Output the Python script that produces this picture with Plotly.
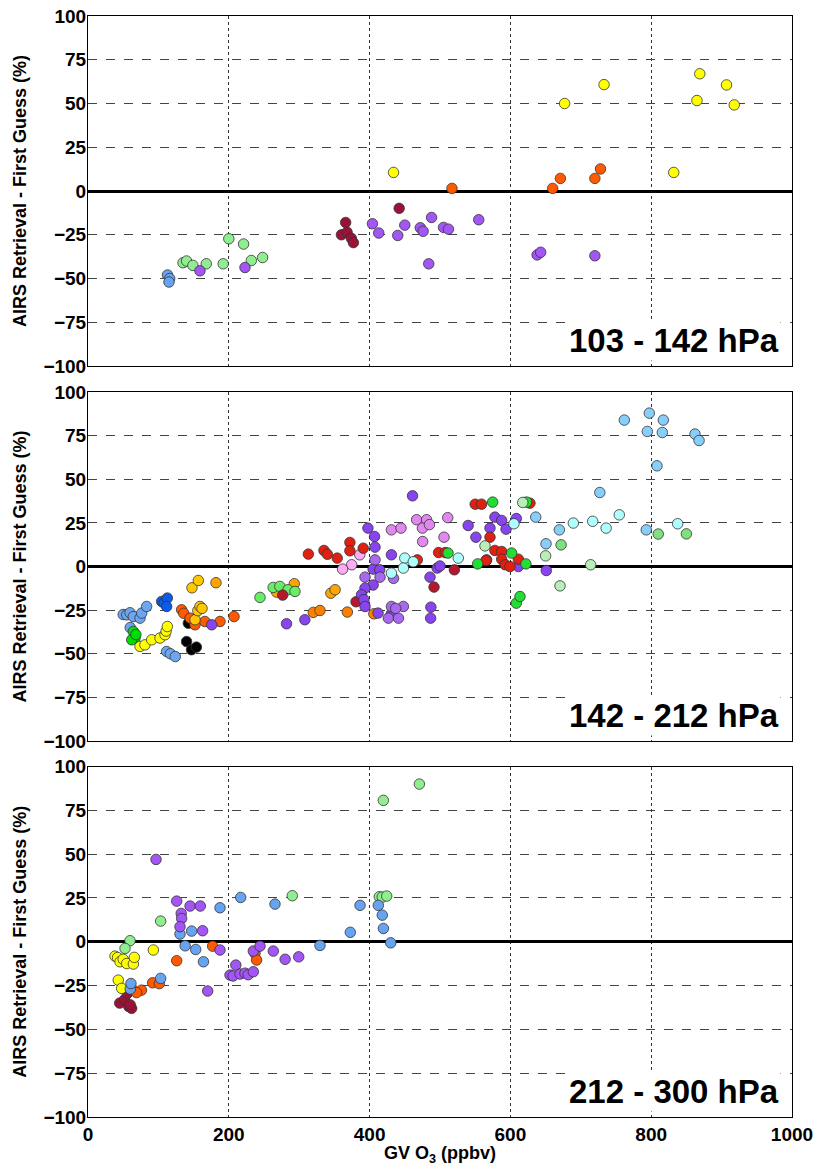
import plotly.graph_objects as go

# ---------------- DATA ----------------
# Panel 1 : 103 - 142 hPa
p1_blue = [(113, -48), (116, -50), (115, -52)]
p1_lgreen = [(135, -41), (140, -40), (149, -42.5), (168, -41.6), (192, -41.6), (200, -27.3),
             (221, -30.3), (232, -39.7), (248, -38)]
p1_purple = [(159, -45.6), (223, -43.7), (404, -18.7), (413, -24), (440, -25.4), (450, -19.5),
             (472, -21), (476, -23), (488, -15.1), (505, -20.8), (512, -21.8), (484, -41.6),
             (555, -16.4), (638, -36.5), (643, -35), (720, -37)]
p1_crimson = [(366, -18), (360, -25), (368, -23.5), (374, -27), (377, -29.5), (442, -9.9)]
p1_yellow = [(434, 10.6), (677, 50), (733, 60.8), (832, 10.6), (865, 51.7), (869, 67),
             (907, 60.6), (918, 49.2)]
p1_orange = [(517, 1.5), (660, 1.5), (671, 7.2), (720, 7.2), (728, 12.6)]

# Panel 2 : 142 - 212 hPa
p2_ltblue = [(50, -27.5), (55, -27.7), (59.7, -26.5), (64.4, -28.7), (73.9, -29.6), (76.3, -26.7),
             (83.3, -22.9), (60, -35), (111.7, -48.7), (117, -50), (124, -51.6)]
p2_blue = [(104.6, -20), (108, -21), (112.7, -18.1), (111.7, -22.9)]
p2_green0 = [(64.4, -37.2), (66.8, -41), (62.1, -42), (68, -39)]
p2_yellow = [(73.9, -45.8), (80.9, -44.9), (90.5, -42), (102.3, -41), (109.4, -39.1),
             (111, -37), (112.7, -34.4)]
p2_black = [(142.5, -32.5), (140, -43), (147, -47.7), (154, -46.2)]
p2_orangered = [(133, -24.8), (136, -26.8), (145, -29.6), (152, -33.4), (166, -31.5),
                (187.5, -31.5), (207.4, -28.7)]
p2_gold = [(147.7, -12.2), (156.7, -8), (152, -30.5), (156, -25.3), (159, -22.9), (162, -24)]
p2_orange = [(181.8, -9.3), (268, -14.7), (293, -9.9), (345, -15.3), (351, -13.3)]
p2_lgreen = [(244.3, -17.7), (263, -12), (272.5, -11.4), (284, -13.3), (294, -14.3)]
p2_crimson = [(276.5, -16.4), (380.7, -20.2), (491.5, -11.8), (520.4, -1.9)]
p2_dorange = [(320, -26.3), (329.5, -25.2), (368.4, -26.1), (406, -27.1)]
p2_purple = [(175.7, -33.4), (282, -32.8), (308, -30.5), (397.6, 22), (407, 17.2), (407.7, 11.1),
             (431, 6.7), (461, 40.5), (405, -1.5), (414.4, -1.9), (405, -10.6), (393.5, -12.4),
             (388.5, -16.2), (392, -19), (393.5, -22.9), (412, -26.7), (431, -27.1), (540, 23.5),
             (551, 16.8), (571, 22), (578, 28.3), (587.6, 26.4), (593.8, 21.4), (608.4, 27.5),
             (651, -2.3), (485.8, -6.1), (496, -0.9), (500, 0.3), (487, -23.3), (486.7, -29.6),
             (566.3, 3.8), (611.3, 0)]
p2_lavender = [(393.5, -6.1), (414.8, -6.1), (434, -6.8), (431, -22.9), (448, -22.9),
               (426.6, -29.6), (441, -29.6), (437, -24), (407.7, 3.8)]
p2_violet = [(431, 21), (444.6, 22), (466.8, 26.8), (481, 26.8), (475, 22), (485, 24),
             (511, 28), (505.7, 16.8), (475.4, 14.3)]
p2_pink = [(386, 6.7), (374.6, 1), (361.6, -1.5)]
p2_red = [(313, 7.1), (335.2, 9.2), (340, 7), (354, 4.8), (372, 13.8), (372, 9), (391, 10.5),
          (467.8, 3.8), (498, 8), (507.5, 8), (550, 35.7), (559, 35.7), (627.8, 36.3),
          (571, 16.8), (565.3, 3.4), (578, 9.2), (587.6, 8.6), (587.6, 4.2), (592.6, 1),
          (599.4, 0), (611.3, 4.2)]
p2_green = [(574.8, 36.9), (623, 36.9), (511.4, 7.7), (553.5, 1.5), (622, 1.5), (601.8, 7.7),
            (608.4, -21), (613.6, -17.2)]
p2_palegreen = [(617.5, 36.7), (563.9, 11.8), (650, 6.1), (670.5, -11.1), (714, 1)]
p2_cyan = [(450, 4.8), (431, -3.8), (448, -0.9), (462, 2.7), (526, 4.8), (605, 24.5),
           (689.4, 24.9), (716.9, 25.9), (736, 22), (754.7, 29.6), (837.6, 24.5)]
p2_skyblue = [(727, 42.4), (636, 28.3), (669.5, 21), (650.6, 13), (761.8, 83.9), (797.3, 87.9),
              (817.2, 83.9), (794.5, 77.4), (815.8, 76.8), (862.2, 75.9), (868, 72.2),
              (808.2, 57.7), (793, 21)]
p2_medgreen = [(672, 12.4), (810, 18.6), (850, 18.7)]

# Panel 3 : 212 - 300 hPa
p3_crimson = [(45, -35), (52, -33), (58, -37), (62, -38), (60, -36), (55.9, -29.5)]
p3_purple = [(96.6, 47), (126, 23.2), (132.4, 16.2), (133, 13.3), (130.7, 8.6), (145, 20.4),
             (159.5, 20.4), (162.8, 6.3), (187.5, -4.7), (170, -28.1), (201.7, -19), (206, -19.5),
             (210, -13.3), (216, -18.4), (223, -17.9), (227.5, -18.8), (234.8, -17.1),
             (234.8, -5.3), (244.3, -2.5), (263.2, -5.3), (280, -10), (299.3, -8.6)]
p3_ltblue = [(60, -27), (61, -23.8), (103.2, -20.9), (130.7, 4.4), (147.2, 6.1), (138, -2.3),
             (153, -4.4), (164, -11.4), (187.5, 19.4), (216.9, 25.3), (265.6, 21.5),
             (329.5, -2.1), (372.6, 5.4), (386.4, 20.8), (412.4, 20.8), (418, 15.2),
             (419.6, 7.6), (430, -0.6)]
p3_lgreen = [(470.7, 90), (419.5, 80.7), (290.2, 26.3), (413.8, 25.7), (418, 25.5),
             (424.3, 26.1), (103.2, 11.8), (59.7, 0.6), (52.6, -3.8)]
p3_yellow = [(92.8, -4.7), (38.4, -8.2), (42, -9), (45.5, -11.4), (50, -10), (55, -12.4),
             (64.4, -12.7), (65.8, -8.9), (43, -21.9), (47.8, -26.6)]
p3_orangered = [(126, -10.8), (177, -2.5), (237.2, -6.6), (239.5, -10.4), (91.8, -23.4),
                (101.3, -23.9), (62, -26.6), (76, -27.6), (69, -29)]

y_ticks = [-100, -75, -50, -25, 0, 25, 50, 75, 100]
x_ticks = [0, 200, 400, 600, 800, 1000]
panel_labels = ["103 - 142 hPa", "142 - 212 hPa", "212 - 300 hPa"]
y_title = "AIRS Retrieval - First Guess (%)"
x_title = "GV O<sub>3</sub> (ppbv)"

# ---------------- STYLE ----------------
panels = [
    [(p1_blue, "#66A3F2"), (p1_lgreen, "#90EE90"), (p1_purple, "#A355F5"),
     (p1_crimson, "#9B1238"), (p1_yellow, "#FFFF00"), (p1_orange, "#FF5A00")],
    [(p2_ltblue, "#6CA6F0"), (p2_blue, "#0A5CE8"), (p2_green0, "#00DD00"), (p2_yellow, "#FFFF00"),
     (p2_black, "#000000"), (p2_orangered, "#FF5A00"), (p2_gold, "#FFC800"),
     (p2_orange, "#FFA500"), (p2_lgreen, "#66EE66"), (p2_crimson, "#B5172E"),
     (p2_dorange, "#FF8000"), (p2_purple, "#8844EE"), (p2_lavender, "#A868F0"),
     (p2_violet, "#E088F0"), (p2_pink, "#FFAAF5"), (p2_red, "#E02010"), (p2_green, "#22DD33"),
     (p2_palegreen, "#B8EEB8"), (p2_cyan, "#B0FFFF"), (p2_skyblue, "#87CEFA"),
     (p2_medgreen, "#80E080")],
    [(p3_crimson, "#9B1238"), (p3_orangered, "#FF5A00"), (p3_yellow, "#FFFF00"),
     (p3_lgreen, "#90EE90"), (p3_ltblue, "#66A3F0"), (p3_purple, "#A355F5")],
]

domains = [[0.6821, 1.0], [0.3415, 0.6585], [0.0, 0.3183]]
FONT = "Liberation Sans, Arial, sans-serif"

fig = go.Figure()
for i, series in enumerate(panels):
    ax = "" if i == 0 else str(i + 1)
    for pts, col in series:
        fig.add_trace(go.Scatter(
            x=[p[0] for p in pts], y=[p[1] for p in pts],
            mode="markers", xaxis="x" + ax, yaxis="y" + ax,
            marker=dict(size=10.5, color=col, line=dict(width=0.8, color="#333333")),
            showlegend=False, hoverinfo="skip"))

axis_common = dict(showline=True, mirror=True, linecolor="black", linewidth=1,
                   ticks="", showgrid=True)
for i in range(3):
    ax = "" if i == 0 else str(i + 1)
    xa = dict(axis_common, range=[0, 1000], tickvals=x_ticks, gridcolor="#333333",
              griddash="dot", gridwidth=1, zeroline=False, anchor="y" + ax,
              tickfont=dict(family=FONT, size=19, color="black", weight="bold"),
              showticklabels=(i == 2), automargin=False)
    if i > 0:
        xa["matches"] = "x"
    if i == 2:
        xa["title"] = dict(text=x_title, standoff=2,
                           font=dict(family=FONT, size=18, color="black", weight="bold"))
    ya = dict(axis_common, range=[-100, 100], tickvals=y_ticks, domain=domains[i],
              gridcolor="#444444", griddash="dash", gridwidth=1, zeroline=True,
              zerolinecolor="black", zerolinewidth=2.5, anchor="x" + ax,
              tickfont=dict(family=FONT, size=19, color="black", weight="bold"),
              ticklabelstandoff=-3, automargin=False,
              title=dict(text=y_title, standoff=12,
                         font=dict(family=FONT, size=18, color="black", weight="bold")))
    fig.layout["xaxis" + ax] = xa
    fig.layout["yaxis" + ax] = ya
    fig.add_annotation(text=panel_labels[i], xref="x" + ax + " domain", yref="y" + ax + " domain",
                       x=0.985, y=0.015, xanchor="right", yanchor="bottom", showarrow=False,
                       font=dict(family=FONT, size=33, color="black", weight="bold"),
                       bgcolor="white")

fig.update_layout(width=814, height=1166, margin=dict(l=88, r=22, t=16, b=49),
                  plot_bgcolor="white", paper_bgcolor="white")
fig.write_html("out.html")
